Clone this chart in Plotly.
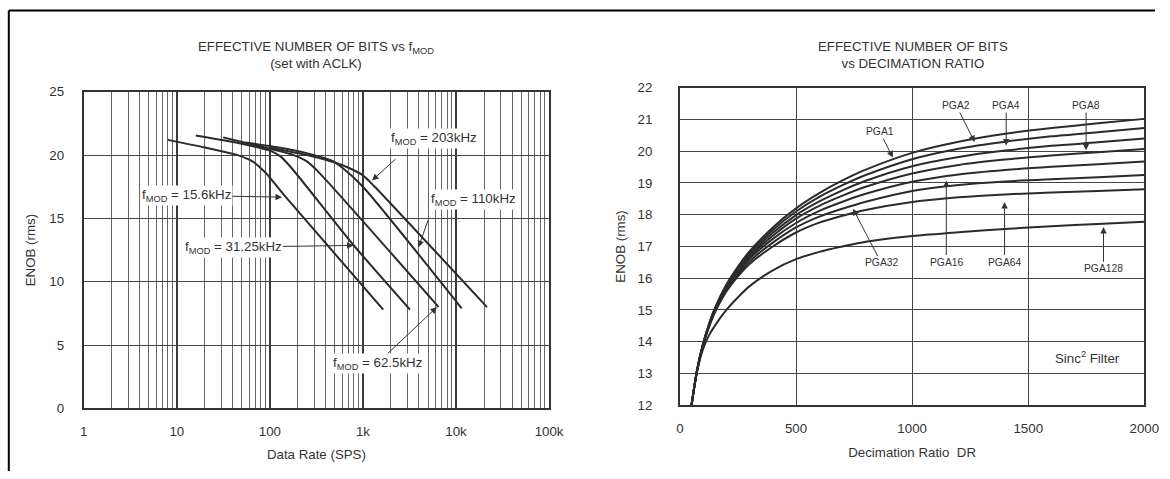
import math
import plotly.graph_objects as go

# ---------------- Left chart data: ENOB vs data rate ----------------
fmod_names = ["15.6kHz", "31.25kHz", "62.5kHz", "110kHz", "203kHz"]
rate_156 = [8, 20, 45, 65, 90, 140, 1650]
enob_156 = [21.2, 20.6, 20.0, 19.5, 18.6, 16.9, 7.8]
rate_3125 = [16, 50, 100, 130, 170, 790, 3200]
enob_3125 = [21.55, 20.9, 20.35, 19.9, 19.0, 12.9, 7.8]
rate_625 = [31.5, 100, 180, 250, 350, 6500]
enob_625 = [21.4, 20.5, 20.0, 19.5, 18.5, 8.0]
rate_110 = [55, 150, 300, 450, 600, 1000, 11500]
enob_110 = [21.0, 20.5, 20.0, 19.6, 19.0, 17.5, 7.9]
rate_203 = [100, 250, 480, 700, 1000, 1300, 21500]
enob_203 = [20.6, 20.0, 19.45, 19.0, 18.4, 17.6, 8.0]
left_rates = [rate_156, rate_3125, rate_625, rate_110, rate_203]
left_enobs = [enob_156, enob_3125, enob_625, enob_110, enob_203]
x_tick_vals = [1, 10, 100, 1000, 10000, 100000]
x_tick_text = ["1", "10", "100", "1k", "10k", "100k"]

# ---------------- Right chart data: ENOB vs decimation ratio ----------------
dr = [50, 60, 75, 100, 125, 150, 200, 250, 300, 400, 500, 600, 700, 800, 1000, 1200, 1400, 1600, 1800, 2000]
pga1 = [12.0, 12.5, 13.15, 13.95, 14.55, 15.05, 15.8, 16.37, 16.85, 17.6, 18.2, 18.68, 19.08, 19.42, 19.95, 20.3, 20.55, 20.73, 20.88, 21.02]
pga2 = [12.0, 12.5, 13.15, 13.94, 14.54, 15.03, 15.77, 16.33, 16.8, 17.52, 18.1, 18.56, 18.93, 19.25, 19.75, 20.08, 20.3, 20.47, 20.6, 20.73]
pga4 = [12.0, 12.5, 13.15, 13.94, 14.53, 15.01, 15.74, 16.28, 16.74, 17.43, 17.99, 18.42, 18.77, 19.07, 19.53, 19.82, 20.02, 20.17, 20.28, 20.4]
pga8 = [12.0, 12.5, 13.15, 13.93, 14.51, 14.99, 15.7, 16.24, 16.68, 17.34, 17.88, 18.28, 18.6, 18.88, 19.3, 19.57, 19.74, 19.87, 19.97, 20.07]
pga16 = [12.0, 12.5, 13.14, 13.92, 14.5, 14.97, 15.67, 16.18, 16.61, 17.24, 17.74, 18.12, 18.41, 18.66, 19.04, 19.27, 19.41, 19.51, 19.59, 19.68]
pga32 = [12.0, 12.5, 13.14, 13.91, 14.48, 14.94, 15.62, 16.12, 16.53, 17.12, 17.6, 17.94, 18.19, 18.41, 18.75, 18.94, 19.05, 19.12, 19.18, 19.25]
pga64 = [12.0, 12.49, 13.13, 13.9, 14.46, 14.91, 15.58, 16.06, 16.45, 17.0, 17.44, 17.75, 17.97, 18.15, 18.4, 18.55, 18.64, 18.7, 18.75, 18.8]
pga128 = [12.0, 12.48, 13.1, 13.78, 14.2, 14.5, 15.0, 15.4, 15.75, 16.25, 16.6, 16.83, 17.0, 17.15, 17.33, 17.45, 17.55, 17.64, 17.71, 17.78]
pga_names = ["PGA1", "PGA2", "PGA4", "PGA8", "PGA16", "PGA32", "PGA64", "PGA128"]
pga_series = [pga1, pga2, pga4, pga8, pga16, pga32, pga64, pga128]

W, H = 1170, 479
FONT = "Liberation Sans, Arial, sans-serif"
INK = "#333333"
LINE = "#2b2b2b"
FS = 13.3
FS_SMALL = 10.3

# The photographed page comes out slightly scaled/offset; these map a wanted
# on-screen pixel position to the layout pixel position that lands there.
SX, OX = 0.985, 3.2
SY, OY = 0.969, 6.5


def px_x(p):
    return ((p - OX) / SX) / W


def px_y(p):
    return 1 - ((p - OY) / SY) / H


fig = go.Figure()

for name, xs, ys in zip(fmod_names, left_rates, left_enobs):
    fig.add_trace(go.Scatter(x=xs, y=ys, mode="lines", name=name, showlegend=False,
                             line=dict(color=LINE, width=2, shape="spline", smoothing=0.6),
                             xaxis="x", yaxis="y"))

for name, ys in zip(pga_names, pga_series):
    fig.add_trace(go.Scatter(x=dr, y=ys, mode="lines", name=name, showlegend=False,
                             line=dict(color=LINE, width=2, shape="spline", smoothing=0.8),
                             xaxis="x2", yaxis="y2"))

axis_common = dict(showline=True, mirror=True, linecolor=INK, linewidth=2, ticks="",
                   zeroline=False, tickfont=dict(family=FONT, size=FS, color=INK))

fig.update_layout(
    width=W, height=H, margin=dict(l=0, r=0, t=0, b=0),
    paper_bgcolor="white", plot_bgcolor="white",
    font=dict(family=FONT, size=FS, color=INK),
    xaxis=dict(type="log", range=[0, 5], domain=[px_x(83), px_x(549)],
               tickvals=x_tick_vals, ticktext=x_tick_text, ticklabelstandoff=10,
               showgrid=True, gridcolor="#3a3a3a", gridwidth=1.6,
               minor=dict(dtick="D1", showgrid=True, gridcolor="#666666", gridwidth=1, ticks=""),
               title=dict(text="Data Rate (SPS)", font=dict(size=FS, color=INK), standoff=11),
               anchor="y", **axis_common),
    yaxis=dict(range=[0, 25], domain=[px_y(408), px_y(91.3)], dtick=5, tick0=0,
               showgrid=True, gridcolor="#444444", gridwidth=1, ticklabelstandoff=15,
               title=dict(text="ENOB (rms)", font=dict(size=FS, color=INK), standoff=11),
               anchor="x", **axis_common),
    xaxis2=dict(range=[0, 2000], domain=[px_x(680), px_x(1145)], dtick=500, tick0=0,
                showgrid=True, gridcolor="#444444", gridwidth=1, ticklabelstandoff=10,
                title=dict(text="Decimation Ratio  DR", font=dict(size=FS, color=INK), standoff=13),
                anchor="y2", **axis_common),
    yaxis2=dict(range=[12, 22], domain=[px_y(404.8), px_y(87.3)], dtick=1, tick0=12,
                showgrid=True, gridcolor="#444444", gridwidth=1, ticklabelstandoff=23,
                title=dict(text="ENOB (rms)", font=dict(size=FS, color=INK), standoff=9),
                anchor="x2", **axis_common),
)

ann = []
# titles
ann.append(dict(xref="paper", yref="paper", x=px_x(316), y=px_y(55), xanchor="center", yanchor="middle",
                showarrow=False, align="center",
                text="EFFECTIVE NUMBER OF BITS vs f<sub>MOD</sub><br>(set with ACLK)",
                font=dict(size=FS, color=INK)))
ann.append(dict(xref="paper", yref="paper", x=px_x(913), y=px_y(55), xanchor="center", yanchor="middle",
                showarrow=False, align="center",
                text="EFFECTIVE NUMBER OF BITS<br>vs DECIMATION RATIO",
                font=dict(size=FS, color=INK)))

ARROW = dict(showarrow=True, arrowhead=2, arrowsize=1.3, arrowwidth=1, arrowcolor=INK)

# left chart labels whose arrow leaves the text box (label centre, arrow head) - SPS values
left_combined = [
    ("f<sub>MOD</sub> = 15.6kHz", (12.7, 16.81), (135, 16.68)),
    ("f<sub>MOD</sub> = 31.25kHz", (40.2, 12.73), (794, 12.87)),
    ("f<sub>MOD</sub> = 62.5kHz", (1416, 3.53), (6240, 8.0)),
]
for text, centre, head in left_combined:
    ann.append(dict(xref="x", yref="y", axref="x", ayref="y",
                    x=math.log10(head[0]), y=head[1], ax=math.log10(centre[0]), ay=centre[1],
                    text=text, bgcolor="white", borderpad=1, font=dict(size=FS, color=INK), **ARROW))

# left chart labels with a detached arrow (label centre, arrow tail, arrow head)
left_detached = [
    ("f<sub>MOD</sub> = 203kHz", (5830, 21.3), (2320, 19.79), (1253, 18.0)),
    ("f<sub>MOD</sub> = 110kHz", (15300, 16.5), (5070, 14.97), (3960, 12.73)),
]
for text, centre, tail, head in left_detached:
    ann.append(dict(xref="x", yref="y", x=math.log10(centre[0]), y=centre[1], text=text, showarrow=False,
                    bgcolor="white", borderpad=1, font=dict(size=FS, color=INK)))
    ann.append(dict(xref="x", yref="y", axref="x", ayref="y",
                    x=math.log10(head[0]), y=head[1], ax=math.log10(tail[0]), ay=tail[1],
                    text="", **ARROW))

right_labels = [
    ("PGA1", (860, 20.62), (917, 19.8)),
    ("PGA2", (1190, 21.44), (1269, 20.29)),
    ("PGA4", (1405, 21.44), (1405, 20.18)),
    ("PGA8", (1749, 21.44), (1749, 20.03)),
    ("PGA32", (867, 16.48), (745, 18.19)),
    ("PGA16", (1147, 16.51), (1147, 19.08)),
    ("PGA64", (1398, 16.51), (1398, 18.4)),
    ("PGA128", (1824, 16.3), (1824, 17.61)),
]
for text, centre, head in right_labels:
    ann.append(dict(xref="x2", yref="y2", axref="x2", ayref="y2",
                    x=head[0], y=head[1], ax=centre[0], ay=centre[1],
                    text=text, font=dict(size=FS_SMALL, color=INK), **ARROW))
ann.append(dict(xref="x2", yref="y2", x=1755, y=13.51, text="Sinc<sup>2</sup> Filter", showarrow=False,
                bgcolor="white", font=dict(size=FS, color=INK)))

fig.update_layout(annotations=ann)

# outer frame (left and top edges)
fig.add_shape(type="line", xref="paper", yref="paper", x0=px_x(8), x1=px_x(8), y0=0, y1=px_y(10),
              line=dict(color="black", width=2))
fig.add_shape(type="line", xref="paper", yref="paper", x0=px_x(8), x1=1, y0=px_y(10), y1=px_y(10),
              line=dict(color="black", width=2))

page_fix = (
    "document.documentElement.style.margin='0px';"
    "document.documentElement.style.padding='0px';"
    "document.documentElement.style.overflow='hidden';"
    "document.body.style.margin='0px';"
    "document.body.style.padding='0px';"
    "document.body.style.overflow='hidden';"
)
fig.write_html("out.html", config={"displayModeBar": False}, post_script=page_fix)
